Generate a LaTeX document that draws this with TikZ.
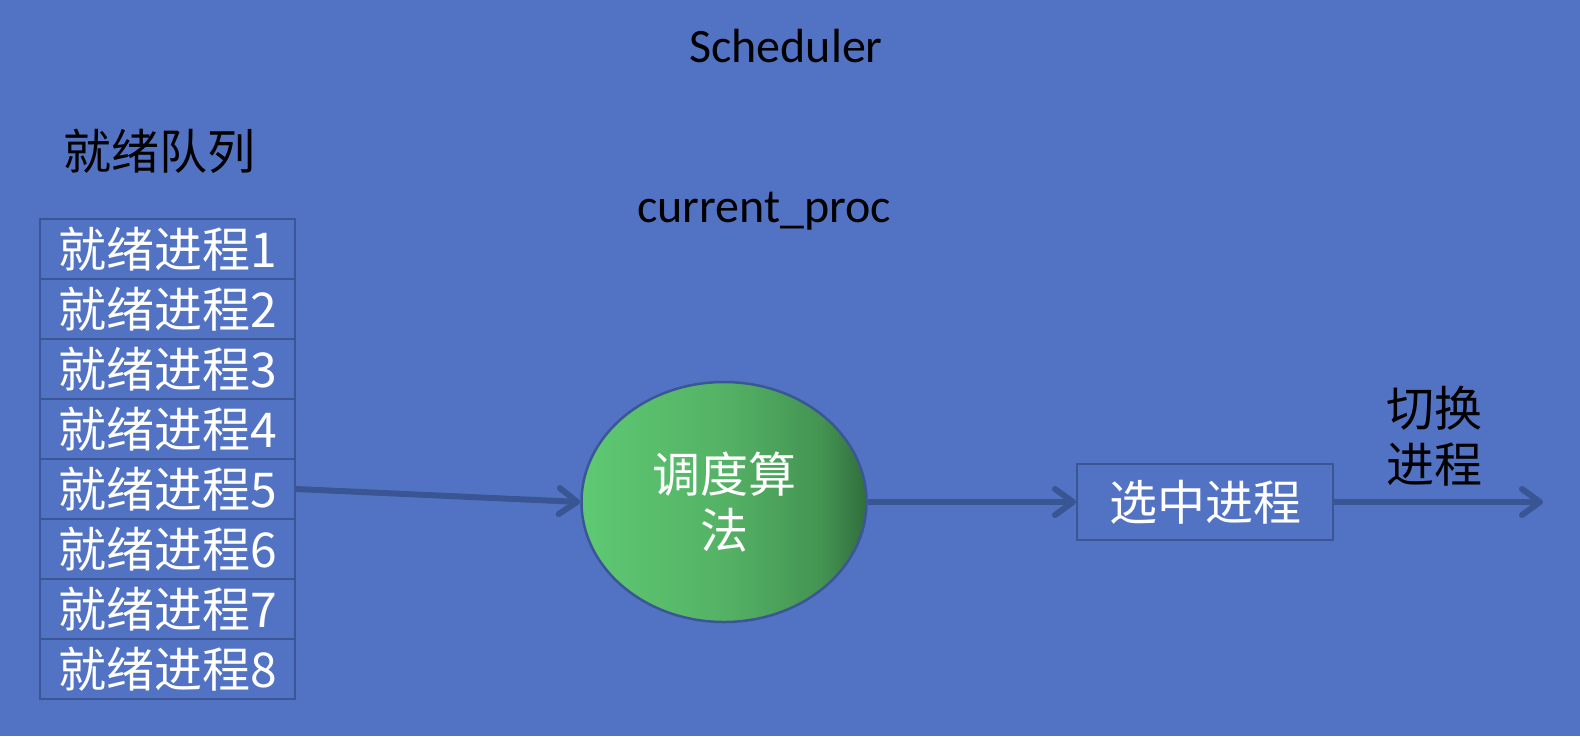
\documentclass[tikz,border=0pt]{standalone}
\usepackage{fontspec}
\setmainfont{Carlito}
\newfontfamily\cjk{Noto Sans CJK SC}
\usetikzlibrary{arrows.meta,shapes.geometric}

\definecolor{bgblue}{HTML}{5273C4}
\definecolor{edgeblue}{HTML}{3B5694}
\definecolor{flowblue}{HTML}{3A5594}
\definecolor{gA}{RGB}{94,201,115}
\definecolor{gB}{RGB}{84,178,101}
\definecolor{gC}{RGB}{68,148,82}
\definecolor{gD}{RGB}{48,110,60}

% left-to-right green fill of the algorithm ellipse
\pgfdeclarehorizontalshading{algofill}{100bp}{%
  color(0bp)=(gA); color(25bp)=(gA); color(50bp)=(gB);
  color(67bp)=(gC); color(75bp)=(gD); color(100bp)=(gD)}

\tikzset{
  bigtext/.style={font=\cjk\fontsize{24pt}{28pt}\selectfont},
  latintext/.style={font=\fontsize{24pt}{28pt}\selectfont, text=black},
  qrow/.style={bigtext, draw=edgeblue, line width=1pt, text=white,
    minimum width=127.5pt, minimum height=30pt, inner sep=0pt},
  selbox/.style={bigtext, draw=edgeblue, line width=1pt, text=white,
    minimum width=128pt, minimum height=38pt, inner sep=0pt},
  algo/.style={ellipse, bigtext, draw=edgeblue, line width=1.25pt, text=white,
    shading=algofill, minimum width=142.5pt, minimum height=120pt,
    inner sep=0pt, align=center},
  flow/.style={draw=flowblue, line width=3pt,
    -{Straight Barb[length=9pt,width=13pt,round]}},
}

\begin{document}
\begin{tikzpicture}[x=0.5pt,y=-0.5pt]
  \useasboundingbox (0,0) rectangle (1580,736);
  \fill[bgblue] (0,0) rectangle (1580,736);

  % headings
  \node[latintext, anchor=base] (sched) at (786,62) {Scheduler};
  \node[latintext, anchor=base] (cur) at (764,222) {current\_proc};
  \node[bigtext, text=black] (qtitle) at (159,151) {就绪队列};

  % ready queue
  \foreach \i in {1,...,8} {
    \node[qrow] (r\i) at (167.5,{249+60*(\i-1)}) {就绪进程\i};
  }

  % scheduling algorithm
  \node[algo] (algo) at (724,502) {调度算\\法};

  % chosen process
  \node[selbox] (sel) at (1205,502) {选中进程};
  \node[bigtext, text=black, align=center] (switch) at (1434,436) {切换\\进程};
  \coordinate (out) at (1543,502);

  % flow
  \draw[flow] (r5.east) -- (algo.west);
  \draw[flow] (algo.east) -- (sel.west);
  \draw[flow] (sel.east) -- (out);
\end{tikzpicture}
\end{document}
